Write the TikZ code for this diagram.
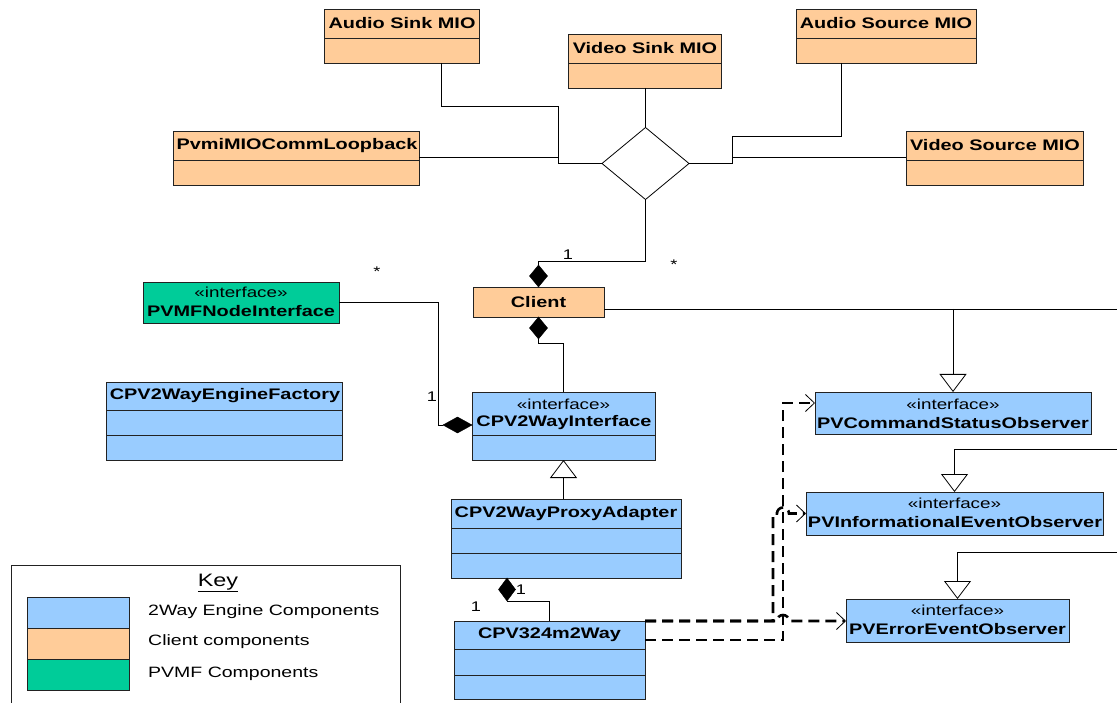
\documentclass[tikz,border=0pt]{standalone}
\usepackage{fontspec}
\setmainfont{Liberation Sans}[FakeStretch=1.3]
\usetikzlibrary{shapes.geometric,arrows.meta}
\definecolor{engblue}{HTML}{99CCFF}
\definecolor{clientor}{HTML}{FFCC99}
\definecolor{pvmfgreen}{HTML}{00CC99}
\definecolor{edge}{HTML}{222222}
\begin{document}
\begin{tikzpicture}[x=1pt,y=-1pt,
  cls/.style={draw=edge, line width=0.9pt, anchor=north west, inner sep=0pt, outer sep=0pt},
  divl/.style={draw=edge, line width=0.9pt},
  ttl/.style={font=\fontsize{15.3}{18}\selectfont\bfseries, inner sep=0pt},
  ster/.style={font=\fontsize{14.5}{17}\selectfont, inner sep=0pt},
  conn/.style={line width=0.8pt, draw=black},
  gen/.style={conn, -{Triangle[open, length=18pt, width=27pt, line width=0.8pt]}},
  compdia/.style={diamond, fill=black, draw=black, inner sep=0pt, outer sep=0pt},
  realize/.style={line width=2.6pt, dash pattern=on 11pt off 6pt, -{Straight Barb[length=9pt, width=17pt, line width=0.8pt]}},
  mult/.style={font=\fontsize{14}{16}\selectfont, inner sep=0pt},
  legtxt/.style={font=\fontsize{15}{18}\selectfont, inner sep=0pt, anchor=west},
  swatch/.style={draw=edge, line width=0.9pt, anchor=north west, inner sep=0pt, minimum width=102, minimum height=31}
]
\useasboundingbox (0,0) rectangle (1117,703);
\fill[white] (0,0) rectangle (1117,703);

% ---------- MIO boxes ----------
\node[cls, fill=clientor, minimum width=155, minimum height=54] (asink) at (324,9) {};
\draw[divl] (asink.west |- 0,38) -- (asink.east |- 0,38);
\node[ttl] (asinkT) at (402,23.5) {Audio Sink MIO};

\node[cls, fill=clientor, minimum width=153, minimum height=54] (vsink) at (568,34) {};
\draw[divl] (vsink.west |- 0,63) -- (vsink.east |- 0,63);
\node[ttl] (vsinkT) at (645,48.5) {Video Sink MIO};

\node[cls, fill=clientor, minimum width=180, minimum height=54] (asrc) at (796,9) {};
\draw[divl] (asrc.west |- 0,38) -- (asrc.east |- 0,38);
\node[ttl] (asrcT) at (886,23.5) {Audio Source MIO};

\node[cls, fill=clientor, minimum width=246, minimum height=54] (loop) at (173,131) {};
\draw[divl] (loop.west |- 0,160) -- (loop.east |- 0,160);
\node[ttl] (loopT) at (297,145.5) {PvmiMIOCommLoopback};

\node[cls, fill=clientor, minimum width=177, minimum height=54] (vsrc) at (906,131) {};
\draw[divl] (vsrc.west |- 0,160) -- (vsrc.east |- 0,160);
\node[ttl] (vsrcT) at (995,145.5) {Video Source MIO};

\node[diamond, draw=black, line width=0.8pt, fill=white, inner sep=0pt, outer sep=0pt,
      minimum width=87, minimum height=72] (assoc) at (645.5,163.5) {};

% ---------- client side ----------
\node[cls, fill=clientor, minimum width=131, minimum height=30] (client) at (473,287) {};
\node[ttl] (clientT) at (538.5,302) {Client};

\node[cls, fill=pvmfgreen, minimum width=196, minimum height=41] (pvmf) at (143,282) {};
\node[ster] (pvmfS) at (241,292) {«interface»};
\node[ttl] (pvmfT) at (241,311) {PVMFNodeInterface};

\node[cls, fill=engblue, minimum width=236, minimum height=78] (factory) at (106,382) {};
\draw[divl] (factory.west |- 0,410) -- (factory.east |- 0,410);
\draw[divl] (factory.west |- 0,435) -- (factory.east |- 0,435);
\node[ttl] (factoryT) at (225,395.5) {CPV2WayEngineFactory};

\node[cls, fill=engblue, minimum width=183, minimum height=68] (iface) at (472,392) {};
\draw[divl] (iface.west |- 0,435) -- (iface.east |- 0,435);
\node[ster] (ifaceS) at (563.5,404) {«interface»};
\node[ttl] (ifaceT) at (564,422.5) {CPV2WayInterface};

\node[cls, fill=engblue, minimum width=230, minimum height=79] (proxy) at (451,499) {};
\draw[divl] (proxy.west |- 0,528) -- (proxy.east |- 0,528);
\draw[divl] (proxy.west |- 0,553) -- (proxy.east |- 0,553);
\node[ttl] (proxyT) at (566,513.5) {CPV2WayProxyAdapter};

\node[cls, fill=engblue, minimum width=191, minimum height=78] (c324) at (454,621) {};
\draw[divl] (c324.west |- 0,649) -- (c324.east |- 0,649);
\draw[divl] (c324.west |- 0,675) -- (c324.east |- 0,675);
\node[ttl] (c324T) at (549.5,634.5) {CPV324m2Way};

\node[cls, fill=engblue, minimum width=276, minimum height=42] (cmdobs) at (815,392) {};
\node[ster] (cmdobsS) at (953,404) {«interface»};
\node[ttl] (cmdobsT) at (953,423) {PVCommandStatusObserver};

\node[cls, fill=engblue, minimum width=297, minimum height=43] (infoobs) at (806,492) {};
\node[ster] (infoobsS) at (954.5,503.5) {«interface»};
\node[ttl] (infoobsT) at (955,522.5) {PVInformationalEventObserver};

\node[cls, fill=engblue, minimum width=223, minimum height=43] (errobs) at (846,599) {};
\node[ster] (errobsS) at (957.5,610.5) {«interface»};
\node[ttl] (errobsT) at (957.5,629.5) {PVErrorEventObserver};

% ---------- connectors around association diamond ----------
\draw[conn] (asink.south -| 441,0) |- (558,106) |- (assoc.west);
\draw[conn] (loop.east |- 0,157) -- (558,157);
\draw[conn] (vsink.south -| assoc.north) -- (assoc.north);
\draw[conn] (asrc.south -| 841,0) |- (732,136) |- (assoc.east);
\draw[conn] (vsrc.west |- 0,157) -- (732,157);

% ---------- compositions ----------
\node[compdia, minimum width=18, minimum height=22, anchor=south] (cdtop) at (client.north) {};
\node[compdia, minimum width=18, minimum height=22, anchor=north] (cdbot) at (client.south) {};
\draw[conn] (assoc.south) |- (cdtop.north |- 0,261) -- (cdtop.north);
\draw[conn] (cdbot.south) |- (iface.north |- 0,343) -- (iface.north);

\node[compdia, minimum width=29, minimum height=16, anchor=east] (idia) at (iface.west |- 0,425) {};
\draw[conn] (pvmf.east) -| (438,425) -- (idia.west);

\node[compdia, minimum width=17, minimum height=23, anchor=north] (pdia) at (proxy.south -| 507,0) {};
\draw[conn] (pdia.south) -| (c324.north);

% ---------- generalizations ----------
\coordinate (redge1) at (1117,309);
\coordinate (redge2) at (1117,449);
\coordinate (redge3) at (1117,552);
\draw[gen] (proxy.north -| iface.south) -- (iface.south);
\draw[conn] (client.east |- redge1) -- (redge1);
\draw[gen] (cmdobs.north |- redge1) -- (cmdobs.north);
\draw[gen] (redge2) -| (infoobs.north);
\draw[gen] (redge3) -| (errobs.north);

% ---------- realizations ----------
\draw[realize] (c324.north east) -- (777,621) arc[start angle=180, end angle=360, radius=6] -- (errobs.west |- 0,621);
\draw[realize] (c324.north east) -- (773,621) -- (773,513.5) -- (777,513.5) arc[start angle=180, end angle=360, radius=6] -- (infoobs.west);
\draw[realize] (c324.east |- 0,640) -- (783,640) -- (783,403) -- (cmdobs.west |- 0,403);

% ---------- multiplicities ----------
\node[mult] (m1) at (568,255) {1};
\node[mult] (m2) at (674,265) {*};
\node[mult] (m3) at (377,272) {*};
\node[mult] (m4) at (432,397) {1};
\node[mult] (m5) at (521,590) {1};
\node[mult] (m6) at (476,607) {1};

% ---------- key ----------
\draw[draw=edge, line width=0.9pt] (11,713) -- (11,565) -- (400,565) -- (400,713);
\node[font=\fontsize{18}{20}\selectfont, inner sep=0pt] (keyT) at (218,583) {\underline{Key}};
\node[swatch, fill=engblue] (sw1) at (27,597) {};
\node[swatch, fill=clientor] (sw2) at (27,628) {};
\node[swatch, fill=pvmfgreen] (sw3) at (27,659) {};
\node[legtxt] (k1) at (148,612) {2Way Engine Components};
\node[legtxt] (k2) at (148,642) {Client components};
\node[legtxt] (k3) at (148,674) {PVMF Components};
\end{tikzpicture}
\end{document}
